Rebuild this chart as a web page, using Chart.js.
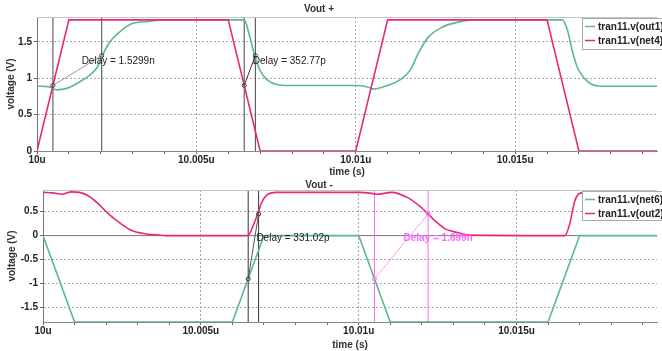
<!DOCTYPE html>
<html>
<head>
<meta charset="utf-8">
<script src="https://cdn.jsdelivr.net/npm/chart.js@4"></script>
<style>
html, body { margin: 0; padding: 0; background: #fff; overflow: hidden; }
#wrap { position: relative; width: 662px; height: 351px; }
canvas { position: absolute; left: 0; }
</style>
</head>
<body>
<div id="wrap">
  <canvas id="topChart" width="662" height="178" style="top:0px"></canvas>
  <canvas id="botChart" width="662" height="178" style="top:173px"></canvas>
</div>
<script>
// time axis is in ns after 10u
const xTicks = [0, 1, 2, 3, 4, 5, 6, 7, 8, 9, 10, 11, 12, 13, 14, 15, 16, 17, 18, 19];
const xEnd = 19.45;
const topYTicks = [0, 0.5, 1, 1.5];
const botYTicks = [-1.5, -1, -0.5, 0, 0.5];

// Vout +
const net4T = [0, 1, 6, 7, 10, 11, 16, 17, 19.45];
const net4V = [0, 1.8, 1.8, 0, 0, 1.8, 1.8, 0, 0];
const out1T = [0, 0.4, 0.62, 0.93, 1.34, 1.65, 1.89, 2.05, 2.27, 2.58, 2.98, 3.51, 3.91, 6.5, 6.68, 6.83, 6.99, 7.24, 7.55, 7.9,
               10.0, 10.37, 10.56, 11.0, 11.4, 11.71, 11.96, 12.27, 12.71, 13.21, 13.7, 16.48, 16.64, 16.79, 16.95, 17.17, 17.38, 17.69, 19.45];
const out1V = [0.89, 0.88, 0.84, 0.86, 0.95, 1.04, 1.15, 1.31, 1.49, 1.63, 1.75, 1.78, 1.8, 1.8, 1.56, 1.31, 1.11, 0.97, 0.91, 0.9,
               0.9, 0.88, 0.85, 0.9, 0.98, 1.11, 1.34, 1.56, 1.7, 1.77, 1.8, 1.8, 1.66, 1.38, 1.15, 1.0, 0.92, 0.89, 0.89];

// Vout -
const net6T = [0, 1, 6, 7, 10, 11, 16, 17, 19.45];
const net6V = [0, -1.8, -1.8, 0, 0, -1.8, -1.8, 0, 0];
const out2T = [0, 0.31, 0.6, 0.91, 1.16, 1.48, 1.79, 2.11, 2.42, 2.83, 3.27, 3.68, 3.9, 6.5, 6.67, 6.8, 6.92, 7.08, 7.4, 7.8,
               10.0, 10.41, 10.57, 11.04, 11.58, 11.99, 12.2, 12.43, 12.74, 13.15, 13.47, 16.53, 16.68, 16.84, 17.0, 17.3, 19.45];
const out2V = [0.9, 0.89, 0.86, 0.91, 0.9, 0.81, 0.64, 0.43, 0.27, 0.1, 0.035, 0.01, 0, 0, 0.23, 0.45, 0.68, 0.84, 0.9, 0.9,
               0.9, 0.88, 0.86, 0.9, 0.78, 0.58, 0.45, 0.3, 0.14, 0.06, 0.01, 0, 0.23, 0.71, 0.88, 0.9, 0.9];

// delay measurements: two marker points and where the label sits
const delayA = { t: [0.5, 2.03], v: [0.9, 1.31], label: 'Delay = 1.5299n', at: [1.4, 1.23] };
const delayB = { t: [6.5, 6.85], v: [0.9, 1.31], label: 'Delay = 352.77p', at: [6.77, 1.23] };
const delayC = { t: [6.5, 6.83], v: [-0.9, 0.45], label: 'Delay = 331.02p', at: [6.76, -0.06] };
const delayD = { t: [10.5, 12.2], v: [-0.9, 0.45], label: 'Delay = 1.699n', at: [11.42, -0.06] };

const GREEN = '#5cb98b';
const PINK = '#e6287e';
const MAG = '#ff66ff';
const FONT = "'Liberation Sans', Arial, sans-serif";

const pts = (t, v) => t.map((x, i) => ({ x: x, y: v[i] }));

function vline(t, lo, hi, color) {
  return { data: [{ x: t, y: lo }, { x: t, y: hi }], borderColor: color, borderWidth: 1, pointRadius: 0, tension: 0 };
}

function delaySets(d, lo, hi, lineCol, linkCol) {
  return {
    front: [
      { data: pts(d.t, d.v), showLine: false, pointRadius: 2, pointBorderWidth: 1,
        pointBorderColor: lineCol, pointBackgroundColor: 'rgba(0,0,0,0)' },
      { data: pts(d.t, d.v), borderColor: linkCol, borderWidth: 1, pointRadius: 0, tension: 0 }
    ],
    back: [vline(d.t[0], lo, hi, lineCol), vline(d.t[1], lo, hi, lineCol)]
  };
}

const deco = {
  id: 'deco',
  afterDatasetsDraw(chart, args, o) {
    const ctx = chart.ctx, a = chart.chartArea;
    const xs = chart.scales.x, ys = chart.scales.y;
    ctx.save();
    // plot frame top
    ctx.strokeStyle = '#c4c4c4';
    ctx.lineWidth = 1;
    ctx.beginPath();
    ctx.moveTo(a.left, Math.round(a.top) + 0.5);
    ctx.lineTo(a.right, Math.round(a.top) + 0.5);
    ctx.stroke();
    // delay labels
    ctx.textAlign = 'left';
    ctx.textBaseline = 'middle';
    o.notes.forEach(n => {
      ctx.font = n.font;
      ctx.fillStyle = n.color;
      ctx.fillText(n.d.label, xs.getPixelForValue(n.d.at[0]), ys.getPixelForValue(n.d.at[1]));
    });
    // legend box
    const bx = a.right - 75, by = Math.round(a.top) + 1.5;
    ctx.fillStyle = '#fff';
    ctx.strokeStyle = '#aaa';
    ctx.fillRect(bx, by, 90, o.boxH);
    ctx.strokeRect(bx + 0.5, by, 90, o.boxH);
    ctx.font = 'bold 10px ' + FONT;
    ctx.fillStyle = '#222';
    o.legend.forEach((it, i) => {
      const y = by + 8 + i * 14;
      ctx.strokeStyle = it.color;
      ctx.lineWidth = 1.5;
      ctx.beginPath();
      ctx.moveTo(bx + 3, y);
      ctx.lineTo(bx + 13, y);
      ctx.stroke();
      ctx.fillText(it.label, bx + 16, y + 0.5);
    });
    // title
    ctx.font = 'bold 10px ' + FONT;
    ctx.fillStyle = '#333';
    ctx.textAlign = 'center';
    ctx.fillText(o.title, 319, o.titleY);
    ctx.restore();
  }
};

function makeChart(id, cfg) {
  const dashGrid = v => (v === 0 || v % 5 !== 0) ? 'rgba(0,0,0,0)' : '#a8a8a8';
  return new Chart(document.getElementById(id), {
    type: 'line',
    data: { datasets: cfg.datasets },
    plugins: [deco],
    options: {
      responsive: false,
      animation: false,
      events: [],
      layout: { padding: { top: 17, left: 0, right: 0, bottom: 0 } },
      plugins: {
        legend: { display: false },
        tooltip: { enabled: false },
        deco: { title: cfg.title, titleY: cfg.titleY, legend: cfg.legend, notes: cfg.notes, boxH: cfg.boxH }
      },
      scales: {
        x: {
          type: 'linear', min: 0, max: xEnd,
          afterBuildTicks: s => { s.ticks = xTicks.map(v => ({ value: v })); },
          afterFit: s => { s.height = cfg.xH; },
          ticks: {
            autoSkip: false, maxRotation: 0, padding: 0, color: '#222',
            font: { family: FONT, size: 10, weight: 'bold' },
            callback: v => v % 5 === 0 ? parseFloat((10 + v / 1000).toFixed(4)) + 'u' : ''
          },
          grid: { color: c => dashGrid(c.tick.value), tickColor: '#666', tickLength: 3 },
          border: { color: '#888', dash: [2, 2] },
          title: { display: true, text: 'time (s)', color: '#333', padding: { top: 0, bottom: 0 },
                   font: { family: FONT, size: 10, weight: 'bold' } }
        },
        y: {
          min: cfg.yMin, max: cfg.yMax,
          afterBuildTicks: s => { s.ticks = cfg.yTicks.map(v => ({ value: v })); },
          afterFit: s => { s.width = cfg.yW; },
          ticks: { padding: 2, color: '#222', font: { family: FONT, size: 10, weight: 'bold' },
                   callback: v => String(v) },
          grid: { color: c => c.tick.value === cfg.yMin || c.tick.value === 0 ? 'rgba(0,0,0,0)' : '#a8a8a8',
                  tickColor: '#666', tickLength: 3 },
          border: { color: '#777', dash: [2, 2] },
          title: { display: true, text: 'voltage (V)', color: '#333', padding: { top: cfg.yTitlePad, bottom: 0 },
                   font: { family: FONT, size: 10, weight: 'bold' } }
        }
      }
    }
  });
}

// ---- Vout +
const dA = delaySets(delayA, 0, 1.84, '#444', '#999');
const dB = delaySets(delayB, 0, 1.84, '#444', '#333');
makeChart('topChart', {
  title: 'Vout +', titleY: 9, yMin: 0, yMax: 1.84, yTicks: topYTicks, yW: 37, xH: 27, yTitlePad: 5.5, boxH: 31,
  legend: [{ label: 'tran11.v(out1)', color: GREEN }, { label: 'tran11.v(net4)', color: PINK }],
  notes: [{ d: delayA, font: '10px ' + FONT, color: '#222' }, { d: delayB, font: '10px ' + FONT, color: '#222' }],
  datasets: [].concat(dA.front, dB.front, [
    { data: pts(net4T, net4V), borderColor: PINK, borderWidth: 1.6, pointRadius: 0, tension: 0 },
    { data: pts(out1T, out1V), borderColor: GREEN, borderWidth: 1.6, pointRadius: 0, cubicInterpolationMode: 'monotone' }
  ], dA.back, dB.back)
});

// ---- Vout -
const dC = delaySets(delayC, -1.8, 0.95, '#333', '#555');
const dD = delaySets(delayD, -1.8, 0.95, MAG, '#ff99ff');
makeChart('botChart', {
  title: 'Vout -', titleY: 12, yMin: -1.8, yMax: 0.95, yTicks: botYTicks, yW: 43, xH: 29, yTitlePad: 6.5, boxH: 29,
  legend: [{ label: 'tran11.v(net6)', color: GREEN }, { label: 'tran11.v(out2)', color: PINK }],
  notes: [{ d: delayC, font: '10px ' + FONT, color: '#222' }, { d: delayD, font: 'bold 10px ' + FONT, color: MAG }],
  datasets: [].concat(dC.front, dD.front, [
    { data: pts(out2T, out2V), borderColor: PINK, borderWidth: 1.6, pointRadius: 0, cubicInterpolationMode: 'monotone' },
    { data: pts(net6T, net6V), borderColor: GREEN, borderWidth: 1.6, pointRadius: 0, tension: 0 }
  ], dC.back, dD.back, [
    { data: [{ x: 0, y: 0 }, { x: xEnd, y: 0 }], borderColor: '#777', borderWidth: 1, pointRadius: 0 }
  ])
});
</script>
</body>
</html>
